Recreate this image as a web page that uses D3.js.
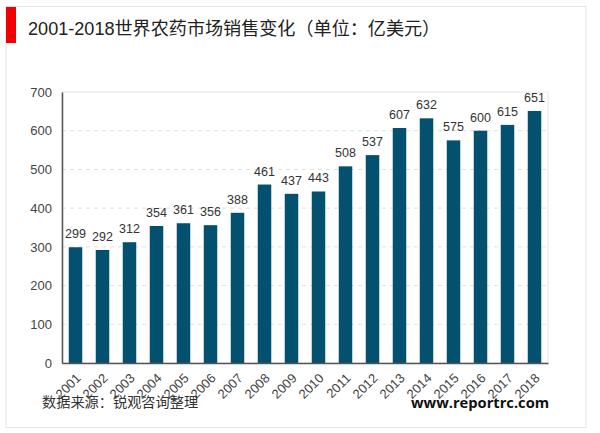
<!DOCTYPE html>
<html>
<head>
<meta charset="utf-8">
<script src="https://cdn.jsdelivr.net/npm/d3@7"></script>
<style>
  html, body { margin: 0; padding: 0; background: #fff; }
  text { font-family: "Liberation Sans", Arial, "Noto Sans CJK SC", sans-serif; }
</style>
</head>
<body>
<div id="chart"></div>
<script>
const years = ['2001','2002','2003','2004','2005','2006','2007','2008','2009','2010','2011','2012','2013','2014','2015','2016','2017','2018'];
const sales = [299,292,312,354,361,356,388,461,437,443,508,537,607,632,575,600,615,651];
const yTicks = [0,100,200,300,400,500,600,700];
const titleText = '2001-2018世界农药市场销售变化（单位：亿美元）';
const sourceText = '数据来源：锐观咨询整理';
const siteText = 'www.reportrc.com';

const width = 600, height = 433;
const plot = { left: 62, right: 548, top: 92, bottom: 363 };

const svg = d3.select('#chart').append('svg')
    .attr('width', width)
    .attr('height', height)
    .style('display', 'block');

// Outer frame
svg.append('rect')
    .attr('x', 6).attr('y', 6.5)
    .attr('width', 580).attr('height', 421)
    .attr('fill', '#fff')
    .attr('stroke', '#e4e4e4')
    .attr('stroke-width', 1);

// Red title marker
svg.append('rect')
    .attr('x', 6).attr('y', 7)
    .attr('width', 10).attr('height', 36)
    .attr('fill', '#f00000');

svg.append('text')
    .attr('x', 28).attr('y', 35)
    .attr('font-size', 18.1)
    .attr('fill', '#222')
    .text(titleText);

const x = d3.scaleBand().domain(years).range([plot.left, plot.right]).paddingInner(0.5).paddingOuter(0.25);
const y = d3.scaleLinear().domain([0, 700]).range([plot.bottom, plot.top]);

// Plot border
svg.append('rect')
    .attr('x', plot.left).attr('y', plot.top)
    .attr('width', plot.right - plot.left).attr('height', plot.bottom - plot.top)
    .attr('fill', 'none')
    .attr('stroke', '#e6e6e6');

// Gridlines
svg.append('g')
    .selectAll('line')
    .data(yTicks.filter(d => d > 0 && d < 700))
    .join('line')
    .attr('x1', plot.left).attr('x2', plot.right)
    .attr('y1', d => y(d)).attr('y2', d => y(d))
    .attr('stroke', '#e0e0e0')
    .attr('stroke-dasharray', '4,4');

// Bars
svg.append('g')
    .selectAll('rect')
    .data(years)
    .join('rect')
    .attr('x', d => x(d))
    .attr('y', (d, i) => y(sales[i]))
    .attr('width', x.bandwidth())
    .attr('height', (d, i) => y(0) - y(sales[i]))
    .attr('fill', '#03506f');

// Value labels
svg.append('g')
    .selectAll('text')
    .data(years)
    .join('text')
    .attr('x', d => x(d) + x.bandwidth() / 2)
    .attr('y', (d, i) => y(sales[i]) - 9)
    .attr('text-anchor', 'middle')
    .attr('font-size', 12.5)
    .attr('fill', '#333')
    .text((d, i) => sales[i]);

// Y axis
const yAxis = svg.append('g')
    .attr('transform', `translate(${plot.left},0)`)
    .call(d3.axisLeft(y).tickValues(yTicks).tickSize(0).tickPadding(10).tickFormat(d3.format('d')));
yAxis.select('.domain').attr('stroke', '#555').attr('stroke-width', 1.5);
yAxis.selectAll('text').attr('font-size', 13).attr('fill', '#444').style('font-family', '"Liberation Sans", Arial, sans-serif');

// X axis
const xAxis = svg.append('g')
    .attr('transform', `translate(0,${plot.bottom})`)
    .call(d3.axisBottom(x).tickSize(0).tickPadding(0));
xAxis.select('.domain').attr('stroke', '#555').attr('stroke-width', 1.5);
xAxis.selectAll('text')
    .attr('font-size', 13)
    .attr('fill', '#444')
    .style('font-family', '"Liberation Sans", Arial, sans-serif')
    .attr('text-anchor', 'end')
    .attr('dy', 0)
    .attr('transform', 'translate(6,16) rotate(-45)');

// Source and site
svg.append('text')
    .attr('x', 42).attr('y', 407)
    .attr('font-size', 14.2)
    .attr('fill', '#333')
    .text(sourceText);

svg.append('text')
    .attr('x', 411).attr('y', 408)
    .attr('font-size', 14.7)
    .attr('font-weight', 'bold')
    .attr('fill', '#111')
    .style('font-family', '"Open Sans", "DejaVu Sans", sans-serif')
    .text(siteText);
</script>
</body>
</html>
